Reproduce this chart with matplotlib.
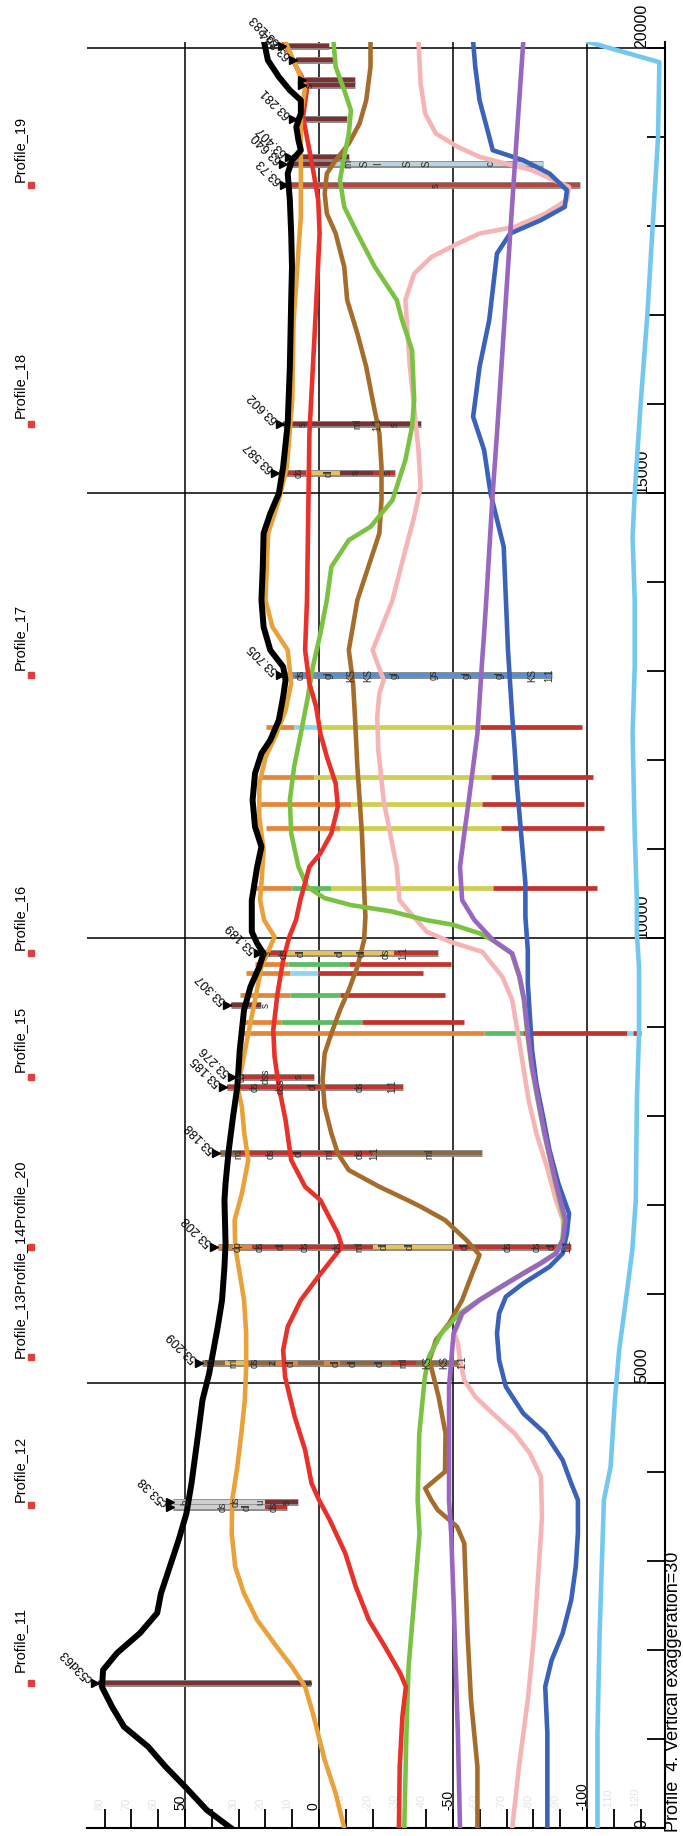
import matplotlib.pyplot as plt
import numpy as np

plt.rcParams['font.family'] = ['Liberation Sans', 'DejaVu Sans']

# ---- horizons: distance along section (m) and elevation (m) ----
ground_d = [0, 202, 464, 689, 914, 1138, 1360, 1584, 1775, 1966, 2191, 2416, 2636, 2936, 3236,
            3535, 3873, 4434, 4809, 5109, 5371, 5633, 5933, 6307, 6569, 7056, 7244, 7618, 7993,
            8330, 8742, 9191, 9453, 9678, 9828, 9940, 10071, 10427, 10802, 11027, 11251, 11551,
            11851, 12075, 12225, 12450, 12712, 12899, 13049, 13236, 13498, 13798, 14173, 14548,
            14772, 14997, 15297, 15783, 16420, 17169, 17543, 17918, 18292, 18592, 18741, 18854,
            18966, 19116, 19266, 19415, 19528, 19678, 19865, 20070]
ground_z = [32.9, 41.9, 50.0, 57.3, 63.8, 72.8, 77.2, 81.0, 80.6, 75.4, 66.8, 60.4, 59.0, 55.7, 52.4,
            49.5, 47.6, 45.1, 43.5, 41.0, 39.4, 37.8, 36.2, 35.3, 34.9, 35.3, 34.9, 33.7, 32.1,
            30.5, 29.6, 28.0, 25.6, 22.3, 20.7, 23.1, 25.1, 25.1, 23.1, 21.5, 23.9, 24.8,
            23.9, 21.5, 18.2, 15.0, 13.4, 12.5, 13.4, 18.2, 20.7, 21.5, 21.0, 20.7,
            18.2, 15.0, 13.4, 11.7, 10.9, 10.4, 10.1, 10.4, 10.9, 11.7, 10.1, 6.8,
            7.7, 8.5, 6.8, 6.8, 10.9, 15.0, 19.1, 20.5]

orange_d = [0, 389, 764, 1288, 1588, 1813, 2037, 2337, 2636, 2936, 3311, 3685, 4060, 4434, 4809,
            5184, 5558, 5933, 6232, 6532, 6831, 7131, 7506, 7805, 8105, 8330, 8555, 8929, 9304,
            9678, 10015, 10202, 10427, 10615, 10989, 11364, 11738, 12038, 12300, 12562, 12862,
            13236, 13498, 13798, 14548, 14922, 15297, 16045, 16944, 17356, 17730, 18105, 18479,
            18854, 19228, 19565, 19790, 20070]
orange_z = [-9.4, -6.2, -2.1, 2.3, 5.2, 10.1, 15.8, 23.1, 28.0, 31.3, 32.6, 32.4, 30.5, 29.0, 27.7,
            27.2, 27.2, 28.0, 29.6, 31.3, 31.5, 28.8, 26.4, 27.9, 28.8, 30.5, 28.8, 26.4, 23.9,
            21.5, 16.6, 20.5, 22.0, 21.5, 20.7, 22.3, 22.3, 19.9, 15.8, 12.5, 10.4,
            11.7, 17.4, 20.0, 19.0, 15.0, 12.0, 10.0, 9.5, 8.5, 7.7, 6.8, 6.8,
            6.8, 6.8, 5.2, 8.5, 12.5]

red_d = [0, 689, 1251, 1588, 1738, 2037, 2337, 2711, 3086, 3461, 3685, 3873, 4247, 4622, 5071,
         5371, 5633, 5933, 6195, 6382, 6532, 6682, 6869, 7056, 7206, 7506, 7955, 8330, 8667,
         8966, 9378, 9753, 10015, 10202, 10427, 10802, 10952, 11177, 11476, 11738, 12038,
         12300, 12600, 12862, 13236, 13798, 15671, 17169, 17918, 18292, 18592, 18854, 19228,
         19565, 19790, 20070]
red_z = [-29.8, -30.1, -31.1, -32.4, -30.3, -24.6, -18.6, -13.7, -9.8, -4.0, 0.0, 2.8, 5.2, 9.1, 12.7,
         13.4, 11.7, 6.8, 0.3, -4.6, -8.6, -7.0, -3.7, -0.5, 5.2, 10.4, 12.5, 15.0, 16.6,
         17.1, 15.5, 13.4, 11.1, 8.6, 7.0, 3.6, -0.5, -4.6, -7.0, -6.2, -2.9,
         -0.5, 1.1, 3.6, 5.2, 4.5, 3.6, 1.0, -0.2, 0.3, 2.0, 3.6, 6.0,
         4.4, 8.5, 13.0]

green_d = [0, 1064, 1813, 2562, 3311, 3685, 4434, 5071, 5296, 5558, 5783, 5933, 6083, 6232, 6345,
           6457, 6607, 6831, 7244, 7805, 8180, 8555, 8929, 9304, 9565, 9828, 9978, 10053, 10150,
           10202, 10300, 10371, 10450, 10577, 10802, 11177, 11551, 11925, 12300, 12675, 13049,
           13424, 13798, 14173, 14473, 14622, 14922, 15371, 15746, 16045, 16607, 16944, 17169,
           17543, 17918, 18217, 18517, 18779, 19041, 19303, 19528, 19790, 20070]
green_z = [-31.8, -32.6, -33.4, -35.5, -37.5, -36.8, -37.4, -39.5, -41.0, -45.6, -52.5, -59.7, -67.8, -76.0, -82.5,
           -88.2, -90.8, -91.5, -88.2, -84.0, -81.6, -79.3, -77.7, -76.4, -74.7, -71.9, -64.7, -60.0, -50.0,
           -40.0, -27.0, -12.0, -2.0, 4.4, 7.7, 10.4, 10.9, 9.3, 6.8, 4.4, 2.3,
           -0.5, -2.9, -4.6, -11.1, -19.2, -27.4, -32.2, -34.7, -35.5, -34.7, -31.0, -29.0,
           -20.8, -14.3, -9.4, -7.8, -9.4, -11.1, -11.9, -9.4, -6.2, -5.4]

brown_d = [0, 689, 1438, 2187, 2936, 3198, 3386, 3573, 3685, 3817, 4004, 4434, 4846, 5258, 5483,
           5670, 5933, 6195, 6438, 6607, 6831, 6981, 7056, 7206, 7393, 7581, 7805, 8105, 8405,
           8704, 8929, 9191, 9416, 9678, 9978, 10240, 10427, 11177, 11925, 12487, 12862, 13236,
           13798, 14173, 14548, 14922, 15297, 15671, 16045, 16420, 16794, 17169, 17543, 17918,
           18142, 18367, 18592, 18741, 18929, 19153, 19415, 19790, 20070]
brown_z = [-59.1, -59.1, -56.7, -55.4, -54.5, -54.2, -51.5, -44.3, -41.9, -39.6, -47.0, -47.2, -44.6, -41.2, -43.6,
           -48.5, -53.4, -56.7, -59.9, -55.0, -47.0, -38.0, -33.0, -22.5, -11.1, -7.0, -4.6, -2.1, -1.3,
           -2.1, -4.6, -7.8, -11.1, -14.3, -16.8, -17.3, -17.0, -16.0, -14.3, -13.4, -12.7, -11.1,
           -14.3, -18.4, -22.5, -23.3, -23.3, -22.5, -20.0, -17.6, -14.3, -10.5, -9.4, -6.2,
           -2.9, -2.1, -2.9, -6.2, -11.1, -15.1, -17.6, -19.2, -19.2]

purple_d = [0, 1064, 1813, 2562, 3311, 3685, 4959, 5558, 5783, 5933, 6083, 6232, 6345, 6457, 6607,
            6831, 7244, 7805, 8180, 8555, 8929, 9304, 9565, 9828, 9978, 10202, 10427, 10802, 11177,
            11551, 11925, 12300, 12675, 13049, 13424, 13798, 14997, 15671, 17169, 18667, 20070]
purple_z = [-52.6, -51.8, -51.0, -50.2, -49.3, -48.5, -48.5, -50.2, -53.4, -59.9, -68.0, -76.2, -82.7, -88.4, -91.0,
            -92.0, -88.4, -84.2, -81.8, -79.5, -77.9, -76.6, -74.9, -72.1, -64.9, -58.0, -53.4, -52.6, -54.2,
            -55.9, -57.5, -59.1, -59.9, -60.7, -61.6, -62.4, -64.8, -66.4, -69.7, -73.0, -76.2]

pink_d = [0, 689, 1438, 2187, 2936, 3498, 3948, 4210, 4434, 4659, 4846, 5034, 5258, 5446, 5558,
          5783, 5933, 6083, 6232, 6345, 6457, 6607, 6831, 7056, 7431, 7805, 8180, 8555, 8929,
          9304, 9565, 9847, 9959, 10071, 10277, 10427, 10802, 11177, 11551, 12113, 12487, 12749,
          12899, 13236, 13424, 13798, 13986, 14360, 14735, 15072, 15484, 16420, 17169, 17468,
          17655, 17805, 17918, 17992, 18142, 18292, 18442, 18517, 18629, 18704, 18779, 18891,
          19041, 19266, 19603, 20070]
pink_z = [-72.1, -74.6, -77.9, -80.3, -82.0, -83.2, -82.8, -78.7, -73.0, -64.8, -58.3, -54.2, -52.6, -51.8, -50.6,
          -53.6, -60.1, -68.2, -76.4, -82.9, -88.6, -91.2, -91.0, -88.4, -85.0, -81.1, -78.2, -76.2, -74.2,
          -72.1, -68.4, -60.9, -48.9, -40.2, -34.2, -30.0, -29.0, -26.5, -24.1, -22.1, -21.7, -22.5,
          -24.1, -20.0, -22.5, -27.4, -29.0, -32.2, -35.5, -37.9, -37.1, -33.9, -32.2, -35.5,
          -42.0, -51.8, -59.9, -73.0, -84.4, -92.5, -93.3, -87.6, -79.5, -69.7, -59.9, -51.8,
          -43.6, -39.6, -37.9, -37.1]

blue_d = [0, 1064, 1588, 1887, 2187, 2562, 2936, 3311, 3685, 3873, 4135, 4434, 4659, 4959, 5258,
          5558, 5783, 5970, 6120, 6307, 6457, 6682, 6906, 7244, 7618, 7993, 8367, 8742, 9116,
          9491, 9865, 10240, 10615, 11177, 11738, 12113, 12487, 12862, 13236, 13611, 14398, 14997,
          15484, 15858, 16420, 16944, 17356, 17693, 17918, 18067, 18217, 18404, 18592, 18741,
          18854, 19041, 19415, 19790, 20070]
blue_z = [-85.2, -85.2, -84.4, -86.8, -90.9, -94.1, -95.8, -96.6, -96.6, -94.1, -90.9, -84.4, -76.2, -69.7, -67.2,
          -66.4, -67.2, -69.7, -76.2, -86.0, -90.9, -92.5, -93.3, -89.3, -86.0, -83.6, -81.1, -79.5, -78.7,
          -77.9, -77.9, -77.0, -77.0, -75.4, -73.8, -73.0, -72.1, -71.3, -70.5, -70.0, -68.9, -64.0,
          -61.6, -57.5, -59.9, -63.5, -65.1, -66.4, -71.3, -82.7, -91.7, -92.5, -86.0, -76.2,
          -64.8, -63.2, -59.9, -58.3, -57.5]

lblue_d = [0, 1064, 2187, 2936, 3685, 4060, 4809, 5371, 5933, 6494, 7056, 8180, 8929, 9678,
           10053, 10427, 11177, 12300, 13049, 13798, 14500, 15000, 16000, 17000, 18000, 19000,
           19843, 20070]
lblue_z = [-103.9, -103.9, -104.7, -105.5, -106.3, -108.8, -110.4, -112.0, -114.5, -116.9, -118.2, -118.6,
           -119.4, -119.4, -118.6, -118.6, -117.8, -117.0, -117.8, -117.8, -117.0, -117.8, -120.0,
           -122.5, -124.5, -126.5, -127.0, -100.5]

# ---- boreholes ----
well_d = [1633, 3663, 3607, 5228, 6532, 7581, 8442, 8330, 9247, 8929, 9060, 9360, 9611, 9708,
          9828, 10559, 11233, 11506, 11813, 12375, 12955, 15229, 15776, 18460, 18704, 18779,
          19210, 19584, 19640, 19865, 20030]
well_top = [82.5, 54.5, 54.5, 43.5, 37.8, 37.0, 31.3, 34.5, 32.9, 28.8, 28.0, 29.6, 27.2, 23.9,
            21.5, 24.8, 19.9, 22.3, 22.3, 19.9, 13.4, 15.0, 13.4, 11.7, 12.0, 10.0,
            8.5, 5.2, 5.2, 8.5, 12.5]
well_id = ['c53d63', '', 'c53.38', '53.209', '53.208', '53.188', '53.276', '53.185', '53.307',
           None, None, None, None, None, '53.189', None, None, None, None, None, '53.705',
           '63.587', '63.602', '63.73', '63.640', '63.407', '63.281', '', '', '63.264', '63.283']
# lithology intervals down each hole: (interval bottom elevation, lithology colour)
well_seg = [
    [(3.0, 'mr')],
    [(20, 'gy'), (8.0, 'mr')],
    [(20, 'gy'), (12.0, 'rd')],
    [(35, 'br'), (27, 'ly'), (16, 'br'), (8, 'or'), (-2, 'br'), (-8, 'or'), (-27, 'br'), (-36, 'rd'), (-53.4, 'br')],
    [(25, 'or'), (-20, 'rd'), (-50, 'ly'), (-94.1, 'rd')],
    [(30, 'br'), (-20, 'rd'), (-60.7, 'br')],
    [(2.0, 'rd')],
    [(-31.4, 'rd')],
    [(21.5, 'mr')],
    [(-61.6, 'or'), (-76.2, 'gr'), (-115, 'rd'), (-117, 'lb'), (-120.2, 'rd')],
    [(14.2, 'or'), (-16, 'gr'), (-54.2, 'rd')],
    [(10.9, 'or'), (-7.8, 'gr'), (-46.9, 'rd')],
    [(10.9, 'or'), (0.3, 'lb'), (-38.8, 'rd')],
    [(11.7, 'or'), (-11.1, 'gr'), (-49.3, 'rd')],
    [(12, 'rd'), (-28, 'ly'), (-44.5, 'rd')],
    [(10.1, 'or'), (-4.6, 'gr'), (-64.8, 'ye'), (-103.9, 'rd')],
    [(-7.8, 'or'), (-68, 'ye'), (-106.4, 'rd')],
    [(-11.9, 'or'), (-60.7, 'ye'), (-99, 'rd')],
    [(2, 'or'), (-64, 'ye'), (-102.3, 'rd')],
    [(9.3, 'or'), (0.3, 'lb'), (-59.9, 'ye'), (-98.2, 'rd')],
    [(-86.8, 'sb')],
    [(5, 'rd'), (-8, 'ly'), (-20, 'mr'), (-28.2, 'rd')],
    [(-37.9, 'mr')],
    [(-97.4, 'bk')],
    [(-5, 'mr'), (-83.6, 'pb')],
    [(-11.1, 'mr')],
    [(-10.3, 'mr')],
    [(-13.5, 'mr')],
    [(-13.5, 'mr')],
    [(-6.2, 'mr')],
    [(-3.7, 'mr')],
]
well_lith = [
    [(3.5, 's')],
    [(50, 'b'), (31, 'ds'), (22, 'u'), (12, 's')],
    [(36, 'ds'), (27, 'dl'), (17, 'ds')],
    [(40.5, 'ml'), (32, 'ml'), (24, 'ds'), (17.4, 'z'), (10.6, 'dl'), (-6, 'dl'), (-12.7, 'dl'),
     (-22.5, 'dl'), (-31.4, 'ml'), (-40.4, 'KS'), (-46.9, 'KS'), (-53.4, '1:1')],
    [(30.5, 'dp'), (22.3, 'ds'), (14.2, 'dl'), (5.2, 'ds'), (-7, 'ds'), (-15.1, 'ml'), (-24.1, 'dl'),
     (-33.9, 'dl'), (-54.2, 'dl'), (-70.5, 'ds'), (-81.1, 'ds'), (-86.8, 'dl'), (-92.5, '1:1')],
    [(30, 'ml'), (18.2, 'ds'), (7.7, 'dl'), (-3.7, 'ml'), (-15.1, 'ds'), (-20.8, '1:1'), (-41.2, 'ml')],
    [(29, 'ds'), (20, 'dss'), (7.5, 's')],
    [(24, 'ds'), (14.5, 'dss'), (2.5, 'dl'), (-15.1, 'ds'), (-27.4, '1:1')],
    [(19.9, 's')],
    [], [], [], [], [],
    [(19, 's'), (13.4, 'ds'), (6.8, 'dl'), (-7.8, 'dl'), (-16, 'dl'), (-24.9, 'ds'), (-31.4, '1:1')],
    [], [], [], [], [],
    [(6.8, 'ds'), (-3.7, 'gl'), (-11.9, 'KS'), (-18.4, 'KS'), (-28.2, 'gl'), (-42.8, 'gs'),
     (-55, 'gl'), (-67.3, 'gl'), (-79.5, 'KS'), (-86, '1:1')],
    [(7.7, 'ds'), (-3.7, 'dl'), (-13.5, 's'), (-25.7, 's')],
    [(6, 's'), (-14.3, 'ml'), (-21.7, '1:1'), (-28.2, 's')],
    [(-43.6, 's')],
    [(-11, 'm'), (-17, 'S'), (-22, 'I'), (-33, 'S'), (-40, 'S'), (-64, 'c')],
    [], [],
    [(3.5, 's')],
    [], [], [],
]
lith_col = {'or': '#e3863a', 'ye': '#cdd04f', 'gr': '#5dbb63', 'rd': '#c3322b', 'lb': '#8fd4ee',
            'br': '#8e6a44', 'mr': '#7b3131', 'sb': '#5a8fcf', 'gy': '#cfcfcf', 'ly': '#e6c25c',
            'pb': '#b7d3de', 'bk': '#b8463d'}

# ---- profile tie points ----
prof_text = ['Profile_11', 'Profile_12', 'Profile_13Profile_14Profile_20', 'Profile_15',
             'Profile_16', 'Profile_17', 'Profile_18', 'Profile_19']
prof_text_d = [1753, 3663, 5281, 8494, 9865, 13011, 15843, 18494]
prof_mark_d = [1633, 3635, 5290, 6532, 8442, 9828, 12955, 15776, 18460]

elev_ticks = np.arange(80, -121, -10)
elev_labels = [50, 0, -50, -100]
dist_labels = [0, 5000, 10000, 15000, 20000]

fig = plt.figure(figsize=(6.83, 18.36), dpi=100)
ax = fig.add_axes([87 / 683, 8 / 1836, 578 / 683, 1786 / 1836])
ax.set_xlim(86.6, -129.1)
ax.set_ylim(0, 20070)

for s in ['left', 'top']:
    ax.spines[s].set_visible(False)
for s in ['bottom', 'right']:
    ax.spines[s].set_linewidth(1.5)

ax.set_xticks(elev_ticks)
ax.tick_params(axis='x', direction='in', length=14, width=1.3, labelbottom=False)
ax.yaxis.tick_right()
ax.set_yticks(np.arange(1000, 20001, 1000))
ax.tick_params(axis='y', direction='in', length=13, width=1.3, labelright=False)

for e in elev_labels:
    ax.axvline(e, color='k', lw=1.1, zorder=1)
for d in dist_labels[1:]:
    ax.axhline(d, color='k', lw=1.1, zorder=1)

for e in elev_ticks:
    if e in elev_labels:
        ax.text(e + 1.9, 200, str(e), rotation=90, ha='center', va='bottom', fontsize=10)
    else:
        ax.text(e + 1.9, 200, str(e), rotation=90, ha='center', va='bottom', fontsize=8,
                color='#e4e4e4')
for d in dist_labels:
    ax.text(-120.5, d, str(d), rotation=90, ha='center', va='bottom', fontsize=11.5)

# boreholes
for i, d in enumerate(well_d):
    top = well_top[i]
    bot = well_seg[i][-1][0]
    if well_id[i] is not None:
        ax.plot([top, bot], [d, d], color='#8c8c8c', lw=5.0, solid_capstyle='butt', zorder=2.4)
        lw = 3.0
    else:
        lw = 3.4
    z0 = top
    for zb, c in well_seg[i]:
        ax.plot([z0, zb], [d, d], color=lith_col[c], lw=lw, solid_capstyle='butt', zorder=2.5)
        z0 = zb
    for ze, t in well_lith[i]:
        ax.text(ze, d, t, rotation=90, ha='center', va='center', fontsize=7,
                color='#2a2a2a', zorder=6)
    if well_id[i] is not None:
        ax.plot(top + 1.3, d, marker='>', ms=6, color='k', zorder=7)
        if well_id[i]:
            ax.text(top + 2.6, d + 30, well_id[i], rotation=135, rotation_mode='anchor',
                    ha='left', va='center', fontsize=9, zorder=7)

# horizons
ax.plot(lblue_z, lblue_d, color='#74c8ef', lw=3.3, zorder=3.0)
ax.plot(pink_z, pink_d, color='#f5b5b5', lw=3.3, zorder=3.1)
ax.plot(blue_z, blue_d, color='#3a62b8', lw=3.3, zorder=3.2)
ax.plot(brown_z, brown_d, color='#a56d2c', lw=3.3, zorder=3.3)
ax.plot(green_z, green_d, color='#7cc242', lw=3.3, zorder=3.4)
ax.plot(purple_z, purple_d, color='#9966c0', lw=3.3, zorder=3.5)
ax.plot(red_z, red_d, color='#e8312a', lw=3.3, zorder=3.6)
ax.plot(orange_z, orange_d, color='#e9a23b', lw=3.3, zorder=3.7)
ax.plot(ground_z, ground_d, color='k', lw=4.3, zorder=3.9)

# profile names above the section
for t, d in zip(prof_text, prof_text_d):
    ax.text(111.6, d, t, rotation=90, ha='center', va='bottom', fontsize=10.5, clip_on=False)
ax.plot([107.5] * len(prof_mark_d), prof_mark_d, 's', ms=4.5, color='#e0403a',
        clip_on=False, zorder=5)

ax.text(-132.1, -45, 'Profile  4. Vertical exaggeration=30', rotation=90, ha='center',
        va='bottom', fontsize=13, clip_on=False)

fig.savefig('out.png', dpi=100)
